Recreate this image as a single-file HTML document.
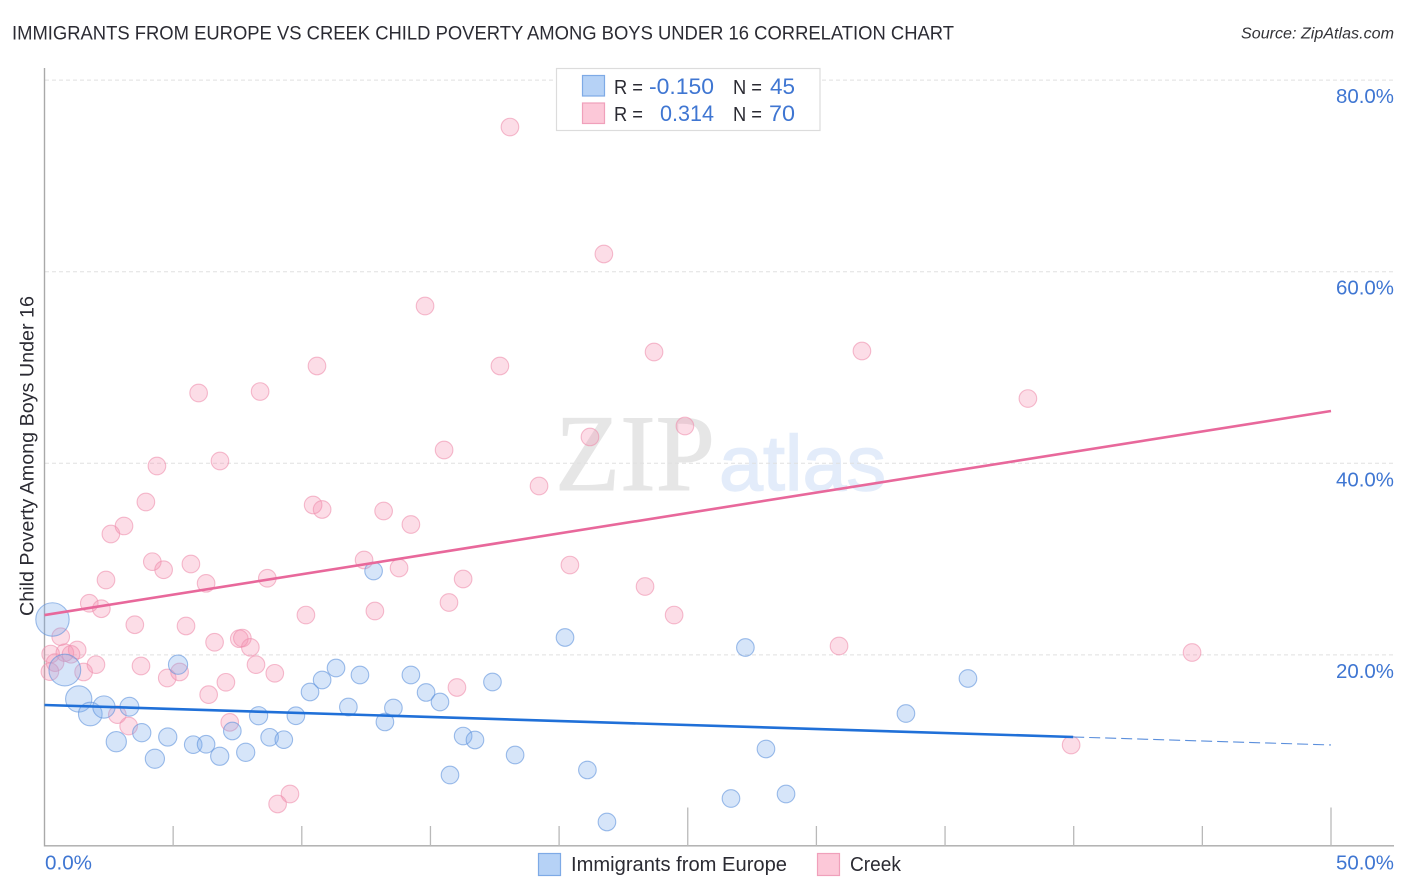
<!DOCTYPE html>
<html lang="en">
<head>
<meta charset="utf-8">
<title>Immigrants from Europe vs Creek Child Poverty Among Boys Under 16 Correlation Chart</title>
<style>
html,body{margin:0;padding:0;background:#fff;}
body{width:1406px;height:892px;overflow:hidden;}
svg{display:block;font-family:"Liberation Sans",sans-serif;}
</style>
</head>
<body>
<svg id="chart" xmlns="http://www.w3.org/2000/svg" width="1406" height="892" viewBox="0 0 1406 892">
  <rect x="0" y="0" width="1406" height="892" fill="#ffffff"/>
  <text x="12" y="39.5" font-size="19.5" fill="#2b2b33" textLength="942" lengthAdjust="spacingAndGlyphs">IMMIGRANTS FROM EUROPE VS CREEK CHILD POVERTY AMONG BOYS UNDER 16 CORRELATION CHART</text>
  <text x="1241" y="38.5" font-size="15.5" font-style="italic" fill="#333338" textLength="153" lengthAdjust="spacingAndGlyphs">Source: ZipAtlas.com</text>
  <text transform="translate(33.5,616) rotate(-90)" font-size="19" fill="#2b2b33" textLength="320" lengthAdjust="spacingAndGlyphs">Child Poverty Among Boys Under 16</text>

  <g>
    <text x="555" y="490" style="font-family:'Liberation Serif',serif" font-size="109" fill="#e6e6e6" stroke="#e6e6e6" stroke-width="1" textLength="160" lengthAdjust="spacingAndGlyphs">ZIP</text>
    <text x="719" y="490" style="font-family:'Liberation Sans',sans-serif" font-size="78" fill="#e3ecfa" stroke="#e3ecfa" stroke-width="1.4" textLength="167" lengthAdjust="spacingAndGlyphs">atlas</text>
  </g>

  <g id="grid"></g>
  <g id="axes"></g>
  <g id="pink-points"></g>
  <g id="blue-points"></g>
  <g id="trends"></g>

  <g>
    <rect x="556.5" y="68.5" width="263.5" height="62" fill="#ffffff" stroke="#dcdcdc" stroke-width="1.2"/>
    <rect x="582.5" y="75.5" width="22" height="20.5" fill="#b6d2f6" stroke="#7eaae6" stroke-width="1.2"/>
    <rect x="582.5" y="103" width="22" height="20.5" fill="#fcc8d8" stroke="#f0a0bb" stroke-width="1.2"/>
    <text x="614" y="94" font-size="20" fill="#2b2b33" textLength="29" lengthAdjust="spacingAndGlyphs">R =</text>
    <text x="649" y="94" font-size="22" fill="#3f76d2" textLength="65" lengthAdjust="spacingAndGlyphs">-0.150</text>
    <text x="733" y="94" font-size="20" fill="#2b2b33" textLength="29" lengthAdjust="spacingAndGlyphs">N =</text>
    <text x="770" y="94" font-size="22" fill="#3f76d2" textLength="25" lengthAdjust="spacingAndGlyphs">45</text>
    <text x="614" y="121" font-size="20" fill="#2b2b33" textLength="29" lengthAdjust="spacingAndGlyphs">R =</text>
    <text x="660" y="121" font-size="22" fill="#3f76d2" textLength="54" lengthAdjust="spacingAndGlyphs">0.314</text>
    <text x="733" y="121" font-size="20" fill="#2b2b33" textLength="29" lengthAdjust="spacingAndGlyphs">N =</text>
    <text x="769" y="121" font-size="22" fill="#3f76d2" textLength="26" lengthAdjust="spacingAndGlyphs">70</text>
  </g>

  <g>
    <g>
      <rect x="538.5" y="853.5" width="22" height="22" fill="#b6d2f6" stroke="#7eaae6" stroke-width="1.2"/>
      <text x="571" y="871" font-size="20" fill="#2b2b33" textLength="216" lengthAdjust="spacingAndGlyphs">Immigrants from Europe</text>
    </g>
    <g>
      <rect x="817.5" y="853.5" width="22" height="22" fill="#fcc8d8" stroke="#f0a0bb" stroke-width="1.2"/>
      <text x="850" y="871" font-size="20" fill="#2b2b33" textLength="51" lengthAdjust="spacingAndGlyphs">Creek</text>
    </g>
  </g>
</svg>

<script>
// --- chart data (percent values) ---
const yTickValues = [20, 40, 60, 80];
const yTickLabels = ["20.0%", "40.0%", "60.0%", "80.0%"];
const xTickValues = [0, 5, 10, 15, 20, 25, 30, 35, 40, 45, 50];
const xMajorTicks = [25, 50];
const xEdgeLabels = ["0.0%", "50.0%"];

const blueX = [0.31,0.79,1.33,1.78,2.31,3.30,2.79,3.78,4.29,4.79,5.78,6.28,6.81,7.82,7.30,5.19,8.32,8.75,9.30,9.77,10.32,10.79,11.33,11.81,12.26,12.79,13.23,13.56,14.24,14.83,15.37,15.76,16.27,16.73,17.41,18.29,20.23,21.10,21.86,26.68,27.24,28.04,28.82,33.48,35.89];
const blueY = [23.70,18.42,15.40,13.83,14.56,14.59,10.94,11.88,9.16,11.43,10.63,10.67,9.42,9.83,12.06,18.98,13.65,11.40,11.15,13.65,16.13,17.38,18.63,14.56,17.90,28.76,13.00,14.46,17.90,16.08,15.08,7.46,11.53,11.12,17.17,9.55,21.82,7.99,2.56,5.01,20.77,10.18,5.48,13.88,17.54];
const blueWeight = [3.6,3.26,2.23,1.81,1.6,1.14,1.32,1.07,1.19,1.07,1,1,1.07,1.07,1,1.19,1.07,1,1,1,1,1,1,1,1,1,1,1,1,1,1,1,1,1,1,1,1,1,1,1,1,1,1,1,1];

const pinkX = [2.39,1.74,2.21,3.51,5.50,6.61,7.57,7.69,8.00,0.63,0.24,1.27,0.79,1.03,0.41,0.21,1.52,2.00,3.75,4.77,5.25,6.38,7.05,8.22,8.95,2.83,3.27,7.20,4.19,4.63,5.69,6.28,8.66,9.54,9.06,18.09,21.74,14.79,10.59,17.70,23.69,31.77,5.99,8.38,38.22,24.89,21.20,15.53,4.37,6.82,19.22,3.94,10.44,10.79,13.18,14.24,3.09,2.58,12.42,13.78,20.42,16.27,23.34,15.72,12.84,10.16,24.47,30.88,44.60,16.03,39.90];
const pinkY = [27.82,25.39,24.82,23.15,23.02,21.32,21.69,21.76,20.79,21.90,20.09,20.51,20.23,20.06,19.19,18.25,18.22,18.98,18.84,17.59,18.22,15.85,17.14,18.98,18.08,13.76,12.58,12.96,29.73,28.89,29.49,27.47,28.00,5.48,4.44,75.10,61.85,56.42,50.16,50.16,51.62,51.72,47.34,47.49,46.76,43.89,42.75,41.39,39.72,40.24,37.63,35.96,35.65,35.18,35.02,33.61,33.46,32.62,29.91,29.07,29.38,27.92,27.14,25.47,24.58,24.16,24.16,20.93,20.25,16.60,10.59];

const blueTrendX = [0, 39.98];
const blueTrendY = [14.77, 11.43];
const blueProjectionX = [39.98, 50];
const blueProjectionY = [11.43, 10.6];
const pinkTrendX = [0, 50];
const pinkTrendY = [24.16, 45.46];

// --- axis functions ---
const NS = 'http://www.w3.org/2000/svg';
function xScale(v){ return 44.5 + v * 25.73; }
function yScale(v){ return 846.5 - v * 9.58; }
function rScale(w, base){ return base * Math.sqrt(w); }
function make(tag, attrs, parent){
  const el = document.createElementNS(NS, tag);
  for (const k in attrs) el.setAttribute(k, attrs[k]);
  parent.appendChild(el);
  return el;
}

// --- gridlines and y labels ---
const gridG = document.getElementById('grid');
const axesG = document.getElementById('axes');
yTickValues.forEach(function(v, i){
  const line = make('line', {x1:45, x2:1394, y1:yScale(v), y2:yScale(v), stroke:'#e0e0e0', 'stroke-width':1, 'stroke-dasharray':'4 3'}, gridG);
  
  
  const t = make('text', {x:1394, y:yScale(v)+23, 'text-anchor':'end', 'font-size':20, fill:'#3f76d2', textLength:58, lengthAdjust:'spacingAndGlyphs'}, axesG);
  
  
  t.textContent = yTickLabels[i];
});

// --- axes ---
const yAxisLine = make('line', {x1:44.5, x2:44.5, y1:68, y2:846.5, stroke:'#a9a9a9', 'stroke-width':1.4}, axesG);


const xAxisLine = make('line', {x1:44, x2:1394, y1:845.8, y2:845.8, stroke:'#a9a9a9', 'stroke-width':1.4}, axesG);


xTickValues.forEach(function(v){
  if (v === 0) return;
  const top = xMajorTicks.indexOf(v) >= 0 ? 807.5 : 826;
  const tick = make('line', {x1:xScale(v), x2:xScale(v), y1:top, y2:846, stroke:'#b9b9b9', 'stroke-width':1.3}, axesG);
  
  
});
const xLabelLeft = make('text', {x:45, y:869.5, 'font-size':20, fill:'#3f76d2', textLength:47, lengthAdjust:'spacingAndGlyphs'}, axesG);


xLabelLeft.textContent = xEdgeLabels[0];
const xLabelRight = make('text', {x:1394, y:869.5, 'text-anchor':'end', 'font-size':20, fill:'#3f76d2', textLength:58, lengthAdjust:'spacingAndGlyphs'}, axesG);


xLabelRight.textContent = xEdgeLabels[1];

// --- scatter points ---
const pinkG = document.getElementById('pink-points');
pinkX.forEach(function(v, i){
  const c = make('circle', {cx:xScale(v), cy:yScale(pinkY[i]), r:rScale(1, 8.8), fill:'#f58fb0', 'fill-opacity':0.3, stroke:'#ee8fae', 'stroke-opacity':0.6, 'stroke-width':1.1}, pinkG);
  
  
});
const blueG = document.getElementById('blue-points');
blueX.forEach(function(v, i){
  const c = make('circle', {cx:xScale(v), cy:yScale(blueY[i]), r:rScale(blueWeight[i], 8.8), fill:'#7fadeb', 'fill-opacity':0.32, stroke:'#5f93dc', 'stroke-opacity':0.6, 'stroke-width':1.1}, blueG);
  
  
});

// --- trend lines ---
const trendG = document.getElementById('trends');
const pinkTrend = make('line', {x1:xScale(pinkTrendX[0]), y1:yScale(pinkTrendY[0]), x2:xScale(pinkTrendX[1]), y2:yScale(pinkTrendY[1]), stroke:'#e8689b', 'stroke-width':2.6}, trendG);


const blueTrend = make('line', {x1:xScale(blueTrendX[0]), y1:yScale(blueTrendY[0]), x2:xScale(blueTrendX[1]), y2:yScale(blueTrendY[1]), stroke:'#2070d8', 'stroke-width':2.6}, trendG);


const blueProj = make('line', {x1:xScale(blueProjectionX[0]), y1:yScale(blueProjectionY[0]), x2:xScale(blueProjectionX[1]), y2:yScale(blueProjectionY[1]), stroke:'#5b8fdc', 'stroke-width':1.1, 'stroke-dasharray':'11 5'}, trendG);


</script>
</body>
</html>
